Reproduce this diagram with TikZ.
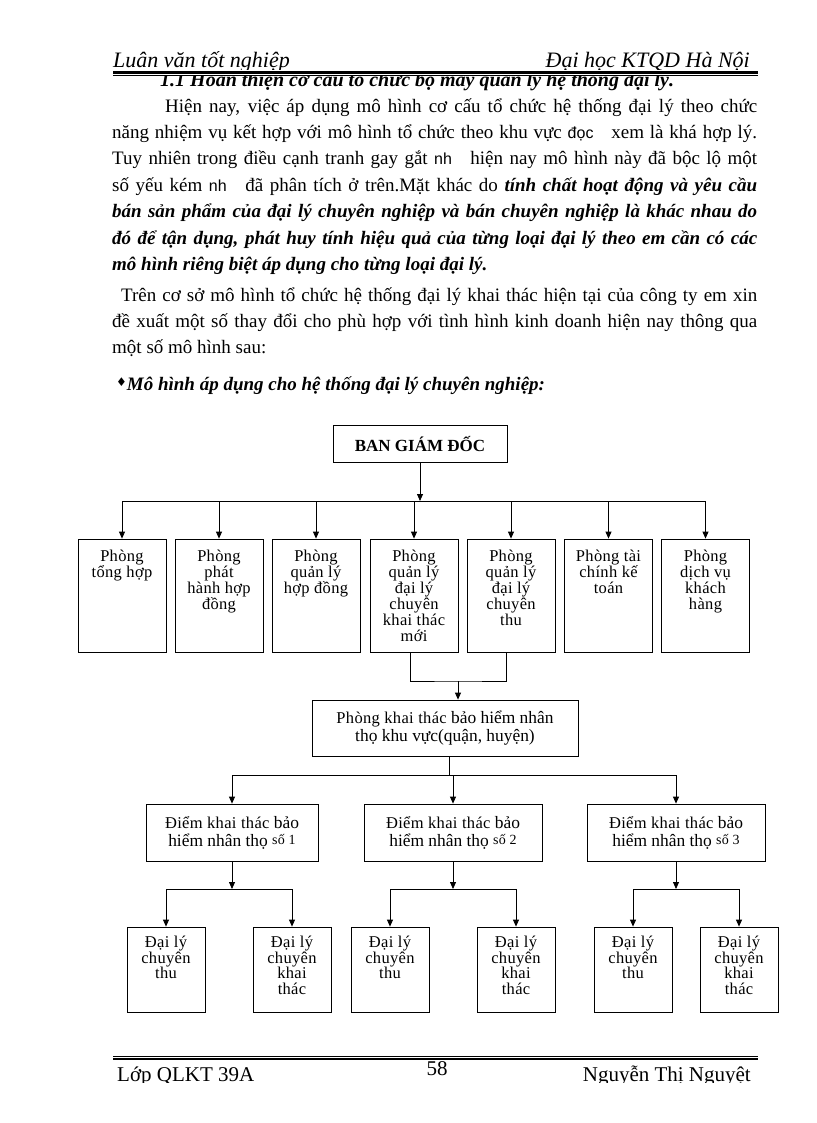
\documentclass[tikz,border=0pt]{standalone}
\usepackage{fontspec}
\setmainfont{Liberation Serif}
\newfontfamily\boxfamily{Liberation Serif}[LetterSpace=2]
\newfontfamily\gapfamily{Liberation Sans}
\newfontfamily\symbfamily{DejaVu Sans}
\usetikzlibrary{arrows.meta, positioning}

\newcommand{\bodyfont}{\fontsize{19}{26}\selectfont}
\newcommand{\headfont}{\fontsize{22}{24}\selectfont\itshape}
\newcommand{\footfont}{\fontsize{21}{24}\selectfont}
\newcommand{\boxfont}{\boxfamily\fontsize{16.5}{16}\selectfont}
\newcommand{\agentfont}{\boxfamily\fontsize{16.5}{15.7}\selectfont}
\newcommand{\tmfont}{\fontsize{17.4}{18}\selectfont}
\newcommand{\sofont}{\boxfamily\fontsize{14}{14}\selectfont}
\newcommand{\topbox}[4]{\parbox[c][#2][t]{#1}{\centering\vspace*{#3}#4}}
\newcommand{\jline}[2]{\makebox[#1][s]{#2}}

\begin{document}
\begin{tikzpicture}[x=1pt, y=-1pt,
        block/.style={draw, line width=0.8pt, inner sep=0pt, align=center},
        arrow/.style={-{Triangle[length=7pt, width=6pt]}, line width=0.8pt},
        link/.style={line width=0.8pt},
        txt/.style={anchor=base west, inner sep=0pt, font=\bodyfont}
    ]
        \path[use as bounding box, fill=white] (0,0) rectangle (816,1123);

        % Running head
        \begin{scope}
            \clip (100,40) rectangle (770,70);
            \node[anchor=base west, inner sep=0pt, font=\headfont] (headl) at (113,68) {Luân văn tốt nghiệp};
            \node[anchor=base east, inner sep=0pt, font=\headfont] (headr) at (750,68) {Đại học KTQD Hà Nội};
        \end{scope}
        \draw[line width=2.5pt] (113,72.5) -- (758,72.5);
        \draw[line width=0.7pt] (113,75.6) -- (758,75.6);

        % Section title
        \begin{scope}
            \clip (100,76.5) rectangle (770,100);
            \node[txt, font=\fontsize{20}{26}\selectfont] (title) at (160,87) {\textbf{\textit{1.1 Hoàn thiện cơ cấu tổ chức bộ máy quản lý hệ thống đại lý.}}};
        \end{scope}

        % Text
        \node[txt] (p1a) at (165,113) {\jline{592pt}{Hiện nay, việc áp dụng mô hình cơ cấu tổ chức hệ thống đại lý theo chức}};
        \node[txt] (p1b) at (112,139) {\jline{645pt}{năng nhiệm vụ kết hợp với mô hình tổ chức theo khu vực {\gapfamily\fontsize{16}{16}\selectfont đọc}\hspace{12pt} xem là khá hợp lý.}};
        \node[txt] (p1c) at (112,165) {\jline{645pt}{Tuy nhiên trong điều cạnh tranh gay gắt {\gapfamily\fontsize{16}{16}\selectfont nh}\hspace{12pt} hiện nay mô hình này đã bộc lộ một}};
        \node[txt] (p1d) at (112,192) {\jline{645pt}{số yếu kém {\gapfamily\fontsize{16}{16}\selectfont nh}\hspace{12pt} đã phân tích ở trên.Mặt khác do \textbf{\textit{tính chất hoạt động và yêu cầu}}}};
        \node[txt] (p1e) at (112,218) {\jline{645pt}{\bfseries\itshape bán sản phẩm của đại lý chuyên nghiệp và bán chuyên nghiệp là khác nhau do}};
        \node[txt] (p1f) at (112,244) {\jline{645pt}{\bfseries\itshape đó để tận dụng, phát huy tính hiệu quả của từng loại đại lý theo em cần có các}};
        \node[txt, font=\bodyfont\bfseries\itshape] (p1g) at (112,270) {mô hình riêng biệt áp dụng cho từng loại đại lý.};

        \node[txt] (p2a) at (121,301) {\jline{636pt}{Trên cơ sở mô hình tổ chức hệ thống đại lý khai thác hiện tại của công ty em xin}};
        \node[txt] (p2b) at (112,327) {\jline{645pt}{đề xuất một số thay đổi cho phù hợp với tình hình kinh doanh hiện nay thông qua}};
        \node[txt] (p2c) at (112,353) {một số mô hình sau:};

        \node[txt] (model) at (116,390) {{\symbfamily\fontsize{12}{12}\selectfont\raisebox{4pt}{♦}}\textbf{\textit{Mô hình áp dụng cho hệ thống đại lý chuyên nghiệp:}}};

        % Board
        \node[block, font=\fontsize{17}{18}\selectfont\bfseries, minimum width=174pt, minimum height=37pt] (bgd) at (420,444) {BAN GIÁM ĐỐC};

        % Departments
        \foreach \n/\cx/\lines in {
                1/122/{Phòng\\tổng hợp},
                2/219/{Phòng\\phát\\hành hợp\\đồng},
                3/316/{Phòng\\quản lý\\hợp đồng},
                4/414/{Phòng\\quản lý\\đại lý\\chuyên\\khai thác\\mới},
                5/511/{Phòng\\quản lý\\đại lý\\chuyên\\thu},
                6/608.5/{Phòng tài\\chính kế\\toán},
                7/705.5/{Phòng\\dịch vụ\\khách\\hàng}}
            \node[block, font=\boxfont] (d\n) at (\cx,595.5) {\topbox{88pt}{113pt}{11pt}{\lines}};

        \coordinate (bus1) at (420,501);
        \draw[arrow] (bgd) -- (bus1);
        \draw[link] (d1.north |- bus1) -- (d7.north |- bus1);
        \foreach \n in {1,...,7}
            \draw[arrow] (d\n.north |- bus1) -- (d\n.north);

        % Regional office
        \node[block, font=\tmfont, minimum width=266pt, minimum height=56pt] (pkt) at (445,728) {{\boxfont Phòng khai thác} bảo hiểm nhân\\thọ khu vực(quận, huyện)};

        \coordinate (join1) at (458,681);
        \draw[link] ([xshift=-4pt]d4.south) |- (join1) -| ([xshift=-5pt]d5.south);
        \draw[arrow] (join1) -- (join1 |- pkt.north);

        % Sales points
        \node[block, font=\tmfont, minimum width=172pt, minimum height=57pt] (diem1) at (232,832.5) {{\boxfont Điểm khai thác} bảo\\hiểm nhân thọ \raisebox{2pt}{\sofont số 1}};
        \node[block, font=\tmfont, minimum width=178pt, minimum height=57pt] (diem2) at (453,832.5) {{\boxfont Điểm khai thác} bảo\\hiểm nhân thọ \raisebox{2pt}{\sofont số 2}};
        \node[block, font=\tmfont, minimum width=178pt, minimum height=57pt] (diem3) at (676,832.5) {{\boxfont Điểm khai thác} bảo\\hiểm nhân thọ \raisebox{2pt}{\sofont số 3}};

        \coordinate (bus2) at (449,775);
        \draw[link] (bus2 |- pkt.south) -- (bus2);
        \draw[link] (diem1.north |- bus2) -- (diem3.north |- bus2);
        \foreach \n in {1,2,3}
            \draw[arrow] (diem\n.north |- bus2) -- (diem\n.north);

        % Agents
        \foreach \g/\ax/\bx in {1/166/292, 2/390/516, 3/633/739} {
            \node[block, font=\agentfont] (dlthu\g) at (\ax,969.5) {\topbox{78pt}{85pt}{9pt}{Đại lý\\chuyên\\thu}};
            \node[block, font=\agentfont] (dlkt\g) at (\bx,969.5) {\topbox{78pt}{85pt}{9pt}{Đại lý\\chuyên\\khai\\thác}};
            \coordinate (sub\g) at (diem\g.south |- 0,889);
            \draw[arrow] (diem\g) -- (sub\g);
            \draw[link] (dlthu\g.north |- sub\g) -- (dlkt\g.north |- sub\g);
            \draw[arrow] (dlthu\g.north |- sub\g) -- (dlthu\g.north);
            \draw[arrow] (dlkt\g.north |- sub\g) -- (dlkt\g.north);
        }

        % Running foot
        \draw[line width=0.7pt] (113,1056) -- (758,1056);
        \draw[line width=2.5pt] (113,1059) -- (758,1059);
        \begin{scope}
            \clip (100,1061) rectangle (770,1082);
            \node[anchor=base west, inner sep=0pt, font=\footfont] (footl) at (117,1081) {Lớp QLKT 39A};
            \node[anchor=base, inner sep=0pt, font=\footfont] (footn) at (437,1075) {58};
            \node[anchor=base east, inner sep=0pt, font=\footfont] (footr) at (751,1081) {Nguyễn Thị Nguyệt};
        \end{scope}
    \end{tikzpicture}
\end{document}
